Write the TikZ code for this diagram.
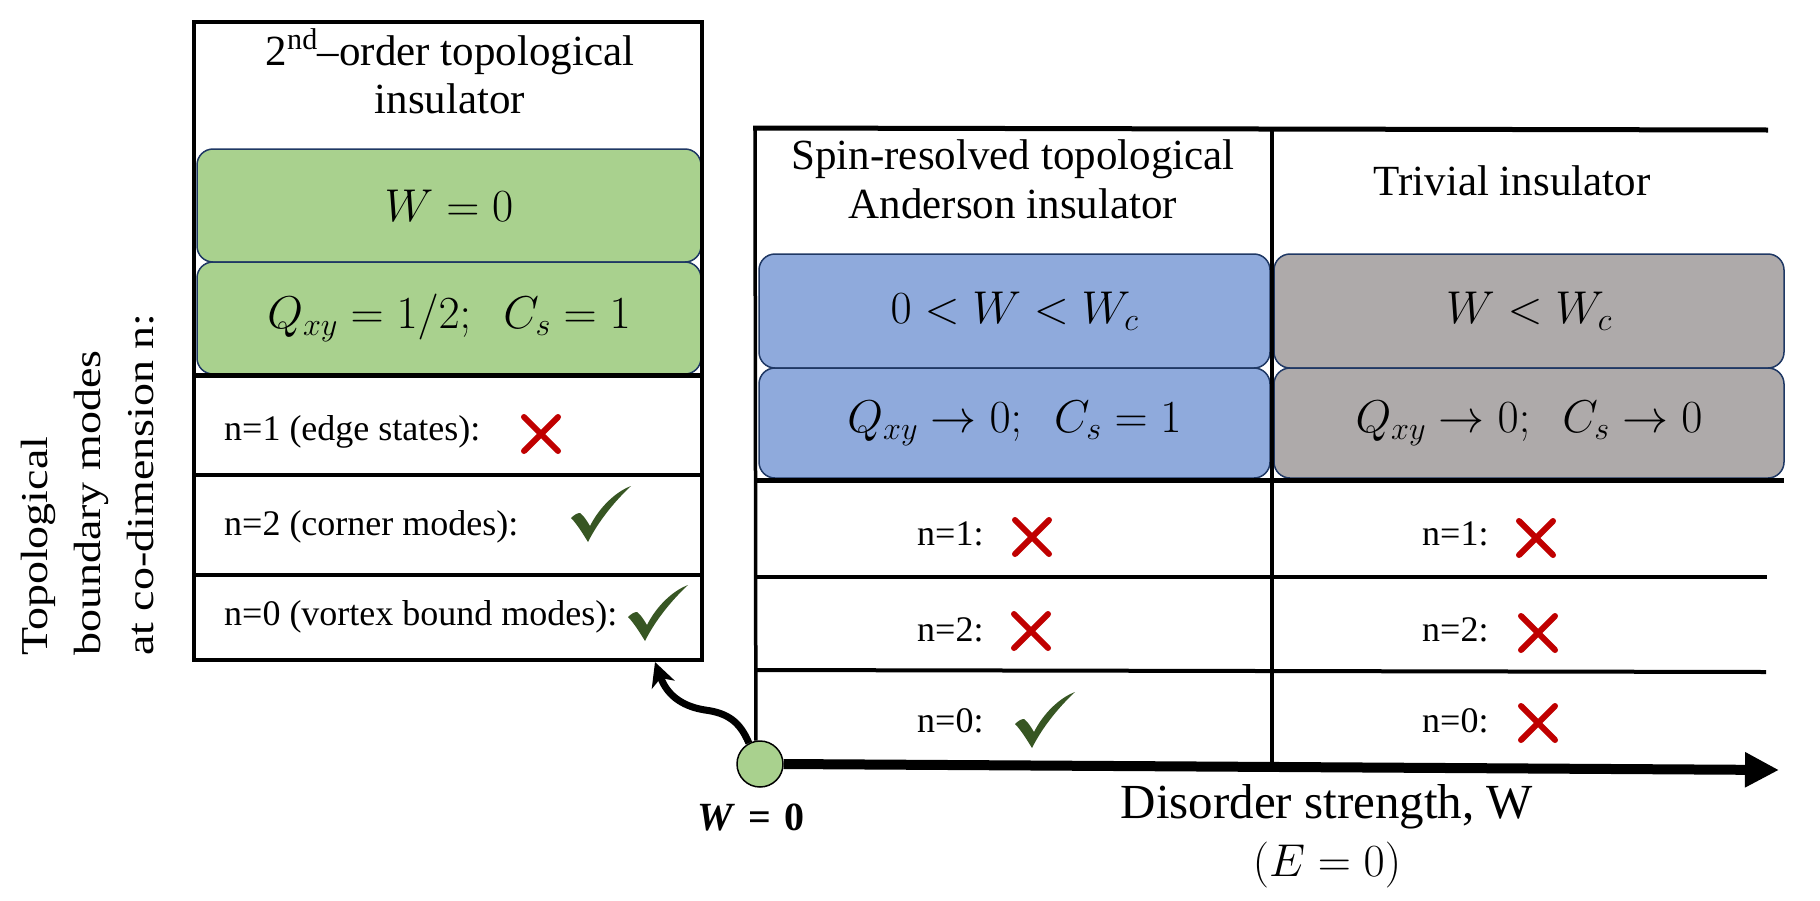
\RequirePackage{fix-cm}
\documentclass[tikz,border=0pt]{standalone}
\usepackage{fontspec}
\setmainfont{Liberation Serif}
\usepackage{graphicx}
\usetikzlibrary{arrows.meta}
\definecolor{gfill}{HTML}{A9D18E}
\definecolor{bfill}{HTML}{8FAADC}
\definecolor{grfill}{HTML}{AEAAAA}
\definecolor{boxline}{HTML}{1F3864}
\definecolor{xred}{HTML}{C00000}
\definecolor{chkgreen}{HTML}{375623}
\tikzset{
  pics/xcross/.style={code={\draw[xred,line width=6pt,line cap=round] (-17,-17) -- (17,17) (-17,17) -- (17,-17);}},
  pics/chkmark/.style={code={\fill[chkgreen] (-30,4) .. controls (-26,0) and (-23,-1) .. (-21,-1) .. controls (-17,2) and (-14,7) .. (-11,12) .. controls (-2,-6) and (14,-22) .. (30,-28) .. controls (15,-14) and (-2,6) .. (-13,28) .. controls (-18,20) and (-24,10) .. (-30,4) -- cycle;}},
  hdr/.style={font=\fontsize{43}{49}\selectfont, inner sep=0pt, anchor=base},
  mtxt/.style={font=\fontsize{46}{52}\selectfont},
  rowtxt/.style={font=\fontsize{36}{42}\selectfont, inner sep=0pt, anchor=base west},
  pbox/.style={draw=boxline, line width=1.5pt, rounded corners=16pt, inner sep=0pt, mtxt},
  sidelbl/.style={font=\fontsize{38}{44}\selectfont, inner sep=0pt, rotate=90, anchor=base west},
  wlbl/.style={font=\fontsize{40}{44}\selectfont\bfseries, inner sep=0pt},
  dlbl/.style={font=\fontsize{49}{54}\selectfont, inner sep=0pt, anchor=base},
  border/.style={line width=4pt},
  thickb/.style={line width=5pt},
}
\begin{document}
\begin{tikzpicture}[x=1pt,y=-1pt]
\fill[white] (0,0) rectangle (1820,900);
\useasboundingbox (0,0) rectangle (1820,900);

% ---------- left box ----------
\node[pbox, fill=gfill, minimum width=504pt, minimum height=113pt] (g1) at (449,205.5) {$W=0$};
\node[pbox, fill=gfill, minimum width=504pt, minimum height=112pt] (g2) at (449,318) {$Q_{xy}=1/2;\;\ C_s=1$};
\draw[border] (194,22) rectangle (702,660);
\draw[thickb] (194,375) -- (702,375);
\draw[border] (194,475) -- (702,475);
\draw[border] (194,575) -- (702,575);
\node[hdr] (t2nd) at (450,65) {2\textsuperscript{nd}–order topological};
\node[hdr] (tins) at (450,113) {insulator};
\node[rowtxt] (r1) at (224,440) {n=1 (edge states):};
\node[rowtxt] (r2) at (224,535) {n=2 (corner modes):};
\node[rowtxt] (r3) at (224,625) {n=0 (vortex bound modes):};
\pic (x1) at (541,434) {xcross};
\pic (c1) at (601,514) {chkmark};
\pic (c2) at (658,613) {chkmark};

% ---------- side label ----------
\node[sidelbl] (s1) at (47,656) {\scalebox{1.21}[1]{Topological}};
\node[sidelbl] (s2) at (100,656) {\scalebox{1.21}[1]{boundary modes}};
\node[sidelbl] (s3) at (153,656) {\scalebox{1.21}[1]{at co-dimension n:}};

% ---------- right table ----------
\node[pbox, fill=bfill, minimum width=511pt, minimum height=114pt] (b1) at (1014.5,311) {$0<W<W_c$};
\node[pbox, fill=bfill, minimum width=511pt, minimum height=110pt] (b2) at (1014.5,423) {$Q_{xy}\rightarrow 0;\;\ C_s=1$};
\node[pbox, fill=grfill, minimum width=510pt, minimum height=114pt] (h1) at (1529,311) {$W<W_c$};
\node[pbox, fill=grfill, minimum width=510pt, minimum height=110pt] (h2) at (1529,423) {$Q_{xy}\rightarrow 0;\;\ C_s\rightarrow 0$};

\node[circle, draw=black, line width=1.5pt, fill=gfill, minimum size=46pt, inner sep=0pt] (dot) at (760,764) {};

\draw[thickb] (753,128) -- (1768,130);
\draw[line width=3.5pt] (755,128) -- (dot.100);
\draw[line width=3.5pt] (1272,128) -- (1272,768);
\draw[thickb] (755,480) -- (1784,480);
\draw[border] (755,577) -- (1767,577);
\draw[border] (755,670) -- (1766,672);

\node[hdr] (tspin) at (1013,169) {Spin-resolved topological};
\node[hdr] (tand) at (1013,218) {Anderson insulator};
\node[hdr] (ttriv) at (1512,195) {Trivial insulator};

\node[rowtxt] (q1) at (917,545) {n=1:};
\node[rowtxt] (q2) at (917,641) {n=2:};
\node[rowtxt] (q3) at (917,732) {n=0:};
\node[rowtxt] (p1) at (1422,545) {n=1:};
\node[rowtxt] (p2) at (1422,641) {n=2:};
\node[rowtxt] (p3) at (1422,732) {n=0:};
\pic (x2) at (1032,537) {xcross};
\pic (x3) at (1031,631) {xcross};
\pic (c3) at (1045,720) {chkmark};
\pic (x4) at (1536,538) {xcross};
\pic (x5) at (1538,633) {xcross};
\pic (x6) at (1538,723) {xcross};

% ---------- axis ----------
\coordinate (axend) at (1779,770);
\draw[line width=10pt, -{Triangle[length=34pt,width=33pt]}] (dot.east) -- (axend);
\coordinate (tip) at (655,662);
\draw[line width=7pt, -{Stealth[length=24pt,width=24pt,inset=7pt]}] (dot.118) .. controls (740,722) and (728,713) .. (705,710) .. controls (686,707) and (668,698) .. (tip);

\node[wlbl] (w0) at (751,817) {\textit{W}\hspace{0.32em}=\hspace{0.32em}0};
\node[dlbl] (dis) at (1327,818) {Disorder strength, W};
\node[mtxt, inner sep=0pt] (e0) at (1327,865) {$(E=0)$};
\end{tikzpicture}
\end{document}
